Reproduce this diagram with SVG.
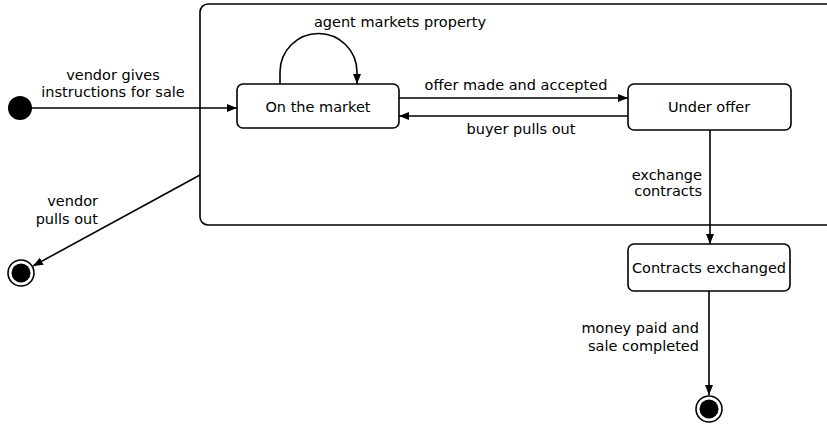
<svg xmlns="http://www.w3.org/2000/svg" width="827" height="426" viewBox="0 0 827 426">
<defs>
<marker id="arr" viewBox="0 0 10 8" refX="10" refY="4" markerWidth="10" markerHeight="8" markerUnits="userSpaceOnUse" orient="auto">
<path d="M0,0 L10,4 L0,8 Z" fill="#000"/>
</marker>
</defs>
<style>
.st{fill:#fff;stroke:#000;stroke-width:1.6}
.sup{fill:none;stroke:#000;stroke-width:1.6}
.ln{fill:none;stroke:#000;stroke-width:1.6;marker-end:url(#arr)}
text{font-family:"DejaVu Sans","Liberation Sans",sans-serif;font-size:14.5px;fill:#000}
.c{text-anchor:middle}
.r{text-anchor:end}
</style>
<rect id="superstate" class="sup" x="200" y="4" width="640" height="221" rx="8"/>
<g id="connectors">
<path class="ln" d="M31,108 L237,108"/>
<path class="ln" d="M280,84 L280,72 A38.5,38.5 0 0 1 357,72 L357,84"/>
<path class="ln" d="M399,98 L628,98"/>
<path class="ln" d="M628,116 L399,116"/>
<path class="ln" d="M710,130 L710,244"/>
<path class="ln" d="M200,175 L33,266"/>
<path class="ln" d="M709,291 L709,395"/>
<text x="113" y="80" class="c">vendor gives</text>
<text x="113" y="97" class="c">instructions for sale</text>
<text x="400" y="27" class="c">agent markets property</text>
<text x="516" y="90" class="c">offer made and accepted</text>
<text x="521" y="134" class="c">buyer pulls out</text>
<text x="702" y="180" class="r">exchange</text>
<text x="702" y="196" class="r">contracts</text>
<text x="98" y="206" class="r">vendor</text>
<text x="98" y="224" class="r">pulls out</text>
<text x="699" y="333" class="r">money paid and</text>
<text x="699" y="351" class="r">sale completed</text>
</g>
<g id="initial"><circle cx="20" cy="108" r="12" fill="#000"/></g>
<g id="on-market"><rect class="st" x="237" y="84" width="162" height="44" rx="6"/><text x="318" y="112" class="c">On the market</text></g>
<g id="under-offer"><rect class="st" x="628" y="84" width="163" height="46" rx="6"/><text x="709" y="112" class="c">Under offer</text></g>
<g id="contracts-exchanged"><rect class="st" x="628" y="244" width="162" height="47" rx="6"/><text x="709" y="273" class="c">Contracts exchanged</text></g>
<g id="final-1"><circle cx="21" cy="273" r="13" fill="#fff" stroke="#000" stroke-width="1.6"/><circle cx="21" cy="273" r="9.5" fill="#000"/></g>
<g id="final-2"><circle cx="709" cy="409" r="13" fill="#fff" stroke="#000" stroke-width="1.6"/><circle cx="709" cy="409" r="9.5" fill="#000"/></g>
</svg>
